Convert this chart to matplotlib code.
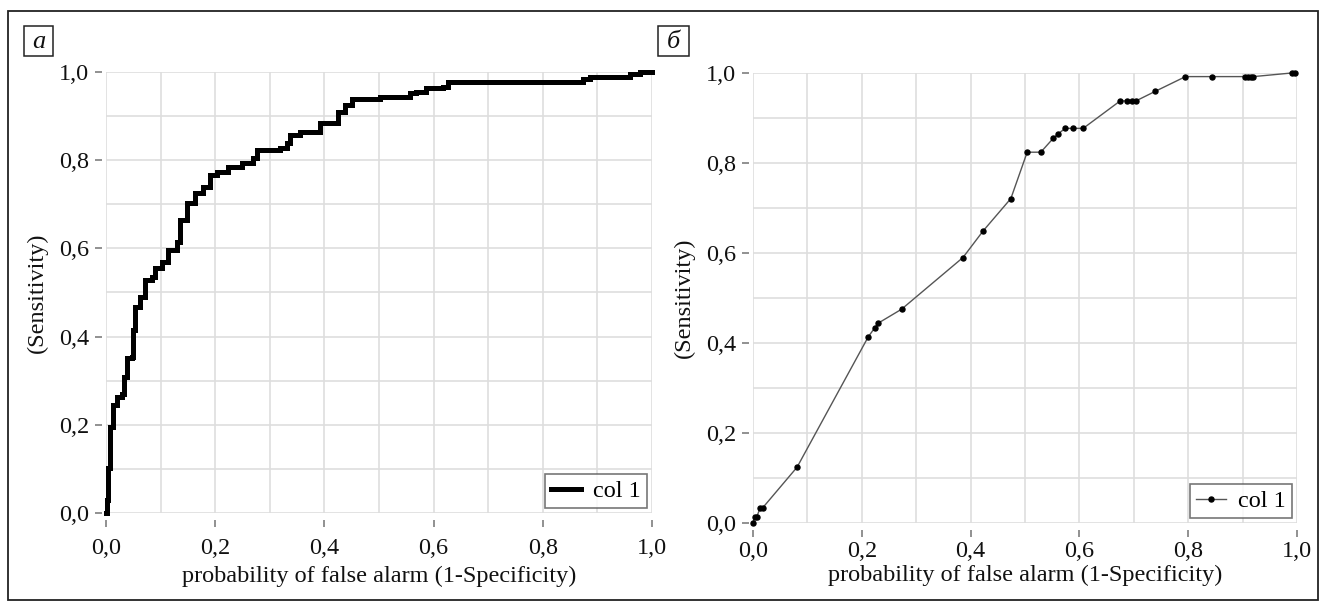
import matplotlib
matplotlib.use("Agg")
import matplotlib.pyplot as plt  # noqa: E402
from matplotlib.patches import Rectangle  # noqa: E402
from matplotlib.ticker import MultipleLocator, FuncFormatter  # noqa: E402

plt.rcParams["font.family"] = ["Liberation Serif", "DejaVu Serif"]

# panel a: step ROC curve (corner points, steps-post)
fpr_a = [0.0, 0.002, 0.004, 0.008, 0.012, 0.020, 0.029, 0.033, 0.038, 0.047,
         0.049, 0.053, 0.062, 0.071, 0.084, 0.090, 0.102, 0.114, 0.130, 0.136,
         0.148, 0.163, 0.178, 0.190, 0.203, 0.224, 0.249, 0.270, 0.276, 0.318,
         0.331, 0.337, 0.355, 0.392, 0.425, 0.438, 0.450, 0.502, 0.557, 0.568,
         0.586, 0.617, 0.626, 0.874, 0.886, 0.960, 0.978, 1.0]
tpr_a = [0.0, 0.03, 0.101, 0.196, 0.245, 0.262, 0.270, 0.309, 0.351, 0.354,
         0.415, 0.468, 0.490, 0.528, 0.536, 0.555, 0.570, 0.596, 0.615, 0.664,
         0.702, 0.725, 0.740, 0.766, 0.774, 0.785, 0.794, 0.804, 0.823, 0.827,
         0.838, 0.857, 0.865, 0.884, 0.910, 0.925, 0.938, 0.944, 0.952, 0.955,
         0.963, 0.966, 0.977, 0.984, 0.989, 0.995, 1.0, 1.0]

# panel b: ROC points joined by straight lines
fpr_b = [0.0, 0.003, 0.007, 0.013, 0.018, 0.081, 0.212, 0.224, 0.230, 0.273,
         0.386, 0.423, 0.474, 0.504, 0.529, 0.552, 0.561, 0.574, 0.589, 0.607,
         0.675, 0.688, 0.696, 0.704, 0.739, 0.795, 0.844, 0.904, 0.910, 0.916,
         0.920, 0.990, 0.996]
tpr_b = [0.0, 0.013, 0.014, 0.033, 0.034, 0.124, 0.414, 0.434, 0.444, 0.475,
         0.590, 0.649, 0.721, 0.824, 0.824, 0.855, 0.865, 0.877, 0.877, 0.877,
         0.938, 0.938, 0.938, 0.938, 0.959, 0.992, 0.992, 0.992, 0.992, 0.992,
         0.992, 1.0, 1.0]

ticks = [0.0, 0.2, 0.4, 0.6, 0.8, 1.0]
xlabel = "probability of false alarm (1-Specificity)"
ylabel = "(Sensitivity)"
series_name = "col 1"

FS = 17.5
W, H = 1326, 609
fig = plt.figure(figsize=(W / 100, H / 100), dpi=100)


def px_axes(x0, x1, ytop, ybot):
    return fig.add_axes([x0 / W, 1 - ybot / H, (x1 - x0) / W, (ybot - ytop) / H])


comma = FuncFormatter(lambda v, _: f"{v:.1f}".replace(".", ","))


def style(ax, xpad=8, xlabelpad=5):
    ax.set_xlim(0, 1)
    ax.set_ylim(0, 1)
    ax.set_xticks(ticks)
    ax.set_yticks(ticks)
    ax.xaxis.set_minor_locator(MultipleLocator(0.1))
    ax.yaxis.set_minor_locator(MultipleLocator(0.1))
    ax.xaxis.set_major_formatter(comma)
    ax.yaxis.set_major_formatter(comma)
    for s in ax.spines.values():
        s.set_visible(False)
    ax.spines["left"].set_position(("outward", 3))
    ax.spines["bottom"].set_position(("outward", 5))
    ax.tick_params(which="major", length=5, width=1.3, color="#888888",
                   labelsize=FS, labelcolor="#111111")
    ax.tick_params(axis="x", pad=xpad)
    ax.tick_params(axis="y", pad=4)
    ax.tick_params(which="minor", length=0)
    ax.grid(which="both", color="#dedede", linewidth=1.2)
    ax.set_axisbelow(True)
    ax.set_xlabel(xlabel, fontsize=FS, color="#111111", labelpad=xlabelpad)
    ax.set_ylabel(ylabel, fontsize=FS, color="#111111", labelpad=8)


def add_legend(ax):
    leg = ax.legend(loc="lower right", fontsize=FS, frameon=True, fancybox=False,
                    borderaxespad=0.2, handlelength=1.25, borderpad=0.25,
                    handletextpad=0.5)
    leg.get_frame().set_edgecolor("#555555")
    leg.get_frame().set_linewidth(1.2)


ax1 = px_axes(106, 652, 72, 513)
style(ax1)
ax1.plot(fpr_a, tpr_a, drawstyle="steps-post", color="black", linewidth=3.6,
         solid_joinstyle="miter", clip_on=False, label=series_name)
add_legend(ax1)

ax2 = px_axes(753, 1297, 73, 523)
style(ax2, xpad=3, xlabelpad=2)
ax2.plot(fpr_b, tpr_b, color="#555555", linewidth=1.0, marker="o",
         markersize=3.6, markerfacecolor="black", markeredgecolor="black",
         clip_on=False, label=series_name)
add_legend(ax2)

# outer frame
fig.add_artist(Rectangle((8 / W, 1 - 600 / H), (1318 - 8) / W, (600 - 11) / H,
                         transform=fig.transFigure, fill=False,
                         edgecolor="#222222", linewidth=1.3))

# panel letters in boxes
for (bx0, bx1, letter) in [(24, 53, "а"), (658, 689, "б")]:
    fig.add_artist(Rectangle((bx0 / W, 1 - 56 / H), (bx1 - bx0) / W, 30 / H,
                             transform=fig.transFigure, fill=False,
                             edgecolor="#222222", linewidth=1.1))
    fig.text((bx0 + bx1) / 2 / W, 1 - 42 / H, letter, fontsize=19,
             style="italic", ha="center", va="center", color="#111111")

fig.savefig("out.png", dpi=100)
plt.close(fig)
